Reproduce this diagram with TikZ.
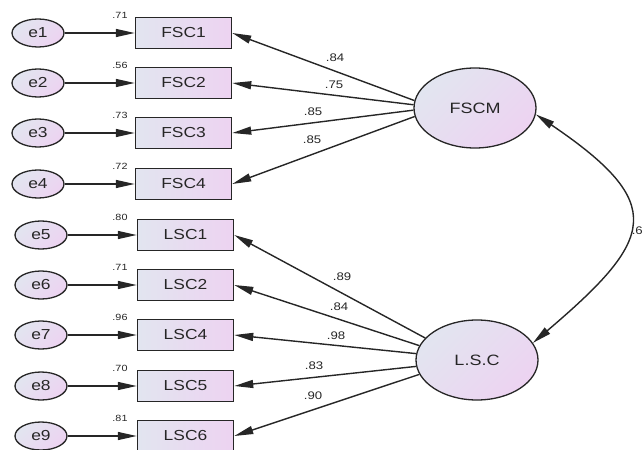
\documentclass[tikz,border=0pt]{standalone}
\usepackage{fontspec}
\setmainfont{Liberation Sans}[FakeStretch=1.2]
\usetikzlibrary{arrows.meta,shapes.geometric}
\definecolor{inkgray}{HTML}{262626}
\definecolor{shadeblue}{HTML}{E2E5F0}
\definecolor{shadepink}{HTML}{EDD3F1}

\tikzset{
  obsbox/.style={draw=inkgray, line width=1.5pt, minimum width=96pt,
    minimum height=31pt, inner sep=0pt, left color=shadeblue,
    right color=shadepink, text=inkgray, font=\fontsize{14.5}{14.5}\selectfont},
  errnode/.style={ellipse, draw=inkgray, line width=1.3pt, minimum width=52pt,
    minimum height=28pt, inner sep=0pt, top color=shadeblue,
    bottom color=shadepink, shading angle=45, text=inkgray,
    font=\fontsize{14.5}{14.5}\selectfont},
  latent/.style={ellipse, draw=inkgray, line width=1.3pt, minimum width=122pt,
    minimum height=80pt, inner sep=0pt, top color=shadeblue,
    bottom color=shadepink, shading angle=45, text=inkgray,
    font=\fontsize{15}{15}\selectfont},
  regpath/.style={draw=inkgray, line width=1.4pt,
    -{Triangle[length=19pt,width=8pt]}},
  covpath/.style={draw=inkgray, line width=1.4pt,
    {Triangle[length=19pt,width=8pt]}-{Triangle[length=19pt,width=8pt]}},
  rsq/.style={font=\fontsize{9}{9}\selectfont, text=inkgray, inner sep=0pt},
  coef/.style={font=\fontsize{11}{11}\selectfont, text=inkgray, inner sep=0pt},
}

\begin{document}
\begin{tikzpicture}[x=1pt,y=-1pt]
\useasboundingbox (0,0) rectangle (644,449);

% latent factors
\node[latent] (FSCM) at (475,108) {FSCM};
\node[latent] (LSC) at (477,360) {L.S.C};

% first factor: indicators and error terms
\foreach \i/\y/\r in {1/33/.71, 2/83/.56, 3/133/.73, 4/184/.72}{
  \node[obsbox] (FSC\i) at (183.5,\y) {FSC\i};
  \node[errnode] (e\i) at (38,\y) {e\i};
  \node[rsq] (r\i) at (120,\y-18) {\r};
  \draw[regpath] (e\i) -- (FSC\i);
}

% second factor: indicators and error terms
\foreach \i/\n/\y/\r in {5/1/235/.80, 6/2/285/.71, 7/4/335/.96, 8/5/386/.70, 9/6/436/.81}{
  \node[obsbox] (LSC\n) at (185.5,\y) {LSC\n};
  \node[errnode] (e\i) at (41,\y) {e\i};
  \node[rsq] (r\i) at (120,\y-18) {\r};
  \draw[regpath] (e\i) -- (LSC\n);
}

% factor loadings
\draw[regpath] (FSCM.173) -- (FSC1.east);
\draw[regpath] (FSCM.177) -- (FSC2.east);
\draw[regpath] (FSCM.182) -- (FSC3.east);
\draw[regpath] (FSCM.188) -- (FSC4.east);
\node[coef] (l1) at (335,58) {.84};
\node[coef] (l2) at (334,85) {.75};
\node[coef] (l3) at (313,112) {.85};
\node[coef] (l4) at (312,140) {.85};

\draw[regpath] (LSC.157) -- (LSC1.east);
\draw[regpath] (LSC.166) -- (LSC2.east);
\draw[regpath] (LSC.174) -- (LSC4.east);
\draw[regpath] (LSC.186) -- (LSC5.east);
\draw[regpath] (LSC.194) -- (LSC6.east);
\node[coef] (l5) at (342,277) {.89};
\node[coef] (l6) at (339,307) {.84};
\node[coef] (l7) at (336,336) {.98};
\node[coef] (l8) at (314,366) {.83};
\node[coef] (l9) at (313,396) {.90};

% factor covariance
\coordinate (cA) at (668,204);
\coordinate (cB) at (655,239);
\draw[covpath] (FSCM.-6) .. controls (cA) and (cB) .. (LSC.17);
\node[coef, anchor=east] (cov) at (643,231) {.6};
\end{tikzpicture}
\end{document}
